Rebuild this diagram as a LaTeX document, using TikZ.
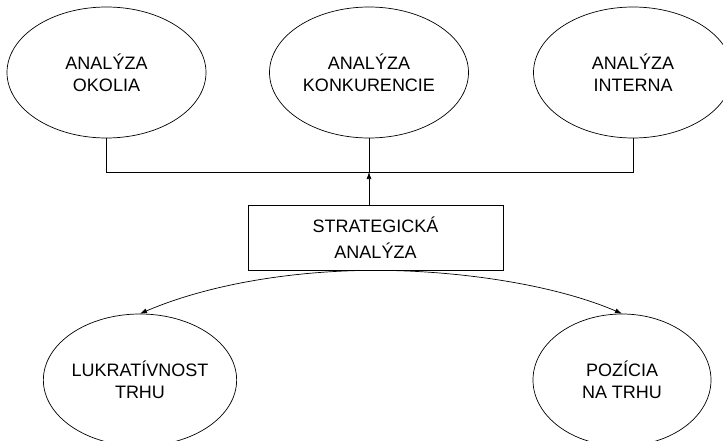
\documentclass[tikz,border=0pt]{standalone}
\usepackage{fontspec}
\setmainfont{Liberation Sans}
\usetikzlibrary{shapes.geometric,arrows.meta}
\begin{document}
\begin{tikzpicture}[x=1pt,y=-1pt,
  every node/.style={font=\fontsize{18}{22}\selectfont, align=center, inner sep=0pt},
  topellipse/.style={draw, ellipse, line width=0.7pt, minimum width=199pt, minimum height=131pt},
  botellipse/.style={draw, ellipse, line width=0.7pt, minimum width=178pt, minimum height=132pt},
  mainbox/.style={draw, rectangle, line width=0.7pt, minimum width=255pt, minimum height=65pt,
    font=\fontsize{18}{26}\selectfont},
  link/.style={line width=0.7pt},
  tip/.style={-{Latex[length=7pt,width=5pt]}}]
  \useasboundingbox (0,0) rectangle (723,441);

  % upper row of analyses
  \node[topellipse] (okolie) at (106.5,72.5) {ANALÝZA\\OKOLIA};
  \node[topellipse] (konkur) at (369,72.5) {ANALÝZA\\KONKURENCIE};
  \node[topellipse] (intern) at (633,72.5) {ANALÝZA\\INTERNA};

  % central box
  \node[mainbox] (strat) at (375.5,237.5) {STRATEGICKÁ\\ANALÝZA};

  % lower row
  \node[botellipse] (lukr) at (140,380) {LUKRATÍVNOST\\TRHU};
  \node[botellipse] (pozic) at (622,380) {POZÍCIA\\NA TRHU};

  % collecting bus below the upper row
  \coordinate (bus) at (0,172);
  \draw[link] (okolie.south) -- (okolie.south |- bus) -- (intern.south |- bus) -- (intern.south);
  \draw[link] (konkur.south) -- (konkur.south |- bus);
  \draw[link,tip] (konkur.south |- strat.north) -- (konkur.south |- bus);

  % curved links to the lower row
  \draw[link,tip] (strat.south) .. controls +(-80,0) and +(70,-30) .. (lukr.north);
  \draw[link,tip] (strat.south) .. controls +(80,0) and +(-70,-30) .. (pozic.north);
\end{tikzpicture}
\end{document}
